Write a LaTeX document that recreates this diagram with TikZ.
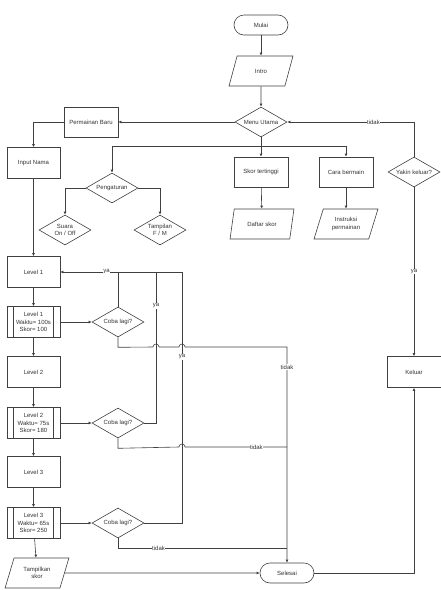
\documentclass[tikz,border=0pt]{standalone}
\usepackage{fontspec}
\setmainfont{Liberation Sans}
\usetikzlibrary{shapes.geometric,arrows.meta}

\begin{document}
\begin{tikzpicture}[x=1pt,y=1pt,
    font=\fontsize{6}{7.5}\selectfont,
    every node/.style={align=center,text=black!80},
    line/.style={draw=black!75,line width=0.6pt},
    arrow/.style={line,-{Latex[length=3pt,width=2.8pt]}},
    box/.style={rectangle,draw=black!75,line width=0.6pt,fill=white,minimum width=53pt,minimum height=31pt,inner sep=1pt},
    proc/.style={box,path picture={
        \draw[black!75,line width=0.6pt]
          ([xshift=6.5pt]path picture bounding box.north west) -- ([xshift=6.5pt]path picture bounding box.south west)
          ([xshift=-6.5pt]path picture bounding box.north east) -- ([xshift=-6.5pt]path picture bounding box.south east);}},
    io/.style={trapezium,trapezium left angle=67,trapezium right angle=113,trapezium stretches=true,
        draw=black!75,line width=0.6pt,fill=white,minimum width=64pt,minimum height=30pt,inner sep=0.5pt},
    decision/.style={diamond,aspect=1.75,draw=black!75,line width=0.6pt,fill=white,minimum width=52pt,minimum height=30pt,inner sep=0.3pt},
    terminal/.style={rectangle,rounded corners=10pt,draw=black!75,line width=0.6pt,fill=white,minimum width=54pt,minimum height=20pt},
    lbl/.style={fill=white,inner sep=0.5pt}]
    \useasboundingbox (0,0) rectangle (441,-590);

    % menu
    \node[terminal] (mulai) at (261,-25) {Mulai};
    \node[io] (intro) at (261,-71) {Intro};
    \node[decision] (menu) at (261,-122) {Menu Utama};
    \node[box,minimum width=54pt,minimum height=30pt] (baru) at (91,-122) {Permainan Baru};
    \node[box] (nama) at (33.5,-163) {Input Nama};
    \node[decision] (atur) at (112,-188) {Pengaturan};
    \node[decision] (suara) at (65,-230) {Suara\\On / Off};
    \node[decision] (tampil) at (160,-230) {Tampilan\\F / M};
    \node[box,minimum width=54pt,minimum height=30pt] (skor) at (261,-172) {Skor tertinggi};
    \node[box,minimum width=54pt,minimum height=30pt] (cara) at (346,-172) {Cara bermain};
    \node[io] (daftar) at (262,-224) {Daftar skor};
    \node[io] (instruksi) at (346,-224) {Instruksi\\permainan};
    \node[decision] (yakin) at (414,-172) {Yakin keluar?};
    \node[box,minimum width=54pt] (keluar) at (414,-372) {Keluar};

    % levels
    \node[box] (lvA) at (33.5,-272) {Level 1};
    \node[proc] (prA) at (33.5,-322) {Level 1\\Waktu= 100s\\Skor= 100};
    \node[decision] (cobaA) at (118,-322) {Coba lagi?};
    \node[box] (lvB) at (33.5,-372) {Level 2};
    \node[proc] (prB) at (33.5,-423) {Level 2\\Waktu= 75s\\Skor= 180};
    \node[decision] (cobaB) at (118,-423) {Coba lagi?};
    \node[box] (lvC) at (33.5,-472) {Level 3};
    \node[proc] (prC) at (33.5,-523) {Level 3\\Waktu= 65s\\Skor= 250};
    \node[decision] (cobaC) at (118,-523) {Coba lagi?};
    \node[io] (hasil) at (37,-573) {Tampilkan\\skor};
    \node[terminal] (selesai) at (287,-573) {Selesai};

    \coordinate (split) at (261,-146);
    \coordinate (topB) at (156,-272);
    \coordinate (topC) at (182,-272);

    \draw[arrow] (mulai) -- (intro);
    \draw[arrow] (intro) -- (menu);
    \draw[arrow] (menu) -- (baru);
    \draw[arrow] (baru.west) -| (nama.north);
    \draw[line] (menu) -- (split);
    \draw[arrow] (split) -| (atur.north);
    \draw[arrow] (split) -- (skor);
    \draw[arrow] (split) -| (cara.north);
    \draw[arrow] (atur.west) -| (suara.north);
    \draw[arrow] (atur.east) -| (tampil.north);
    \draw[arrow] (skor) -- (daftar);
    \draw[arrow] (cara) -- (instruksi);
    \draw[arrow] (yakin.north) |- (menu.east) node[lbl,pos=0.66] {tidak};
    \draw[arrow] (yakin) -- (keluar) node[lbl,midway] {ya};
    \draw[arrow] (selesai.east) -| (keluar.south);

    \draw[arrow] (nama) -- (lvA);
    \draw[arrow] (lvA) -- (prA);
    \draw[arrow] (prA) -- (lvB);
    \draw[arrow] (lvB) -- (prB);
    \draw[arrow] (prB) -- (lvC);
    \draw[arrow] (lvC) -- (prC);
    \draw[arrow] (prC) -- (hasil);
    \draw[arrow] (prA) -- (cobaA);
    \draw[arrow] (prB) -- (cobaB);
    \draw[arrow] (prC) -- (cobaC);
    \draw[arrow] (hasil) -- (selesai);

    % ya: back to level 1
    \draw[line] (cobaC.east) -| (topC) -- (topB);
    \draw[line] (cobaB.east) -| (topB);
    \draw[line] (topB) -- (cobaA.north |- lvA.east);
    \draw[arrow] (cobaA.north) |- (lvA.east) node[lbl,pos=0.6] {ya};
    \node[lbl] (yaB) at (156,-306) {ya};
    \node[lbl] (yaC) at (182,-357) {ya};

    % tidak: to selesai
    \draw[arrow] (cobaA.south) -- ++(0,-10) -- (153,-347) arc[start angle=180,end angle=0,radius=3]
        -- (179,-347) arc[start angle=180,end angle=0,radius=3] -- (287,-347) -- (selesai.north);
    \node[lbl] (tidakA) at (287,-367) {tidak};
    \draw[line] (cobaB.south) -- ++(0,-10) -- (179,-447) arc[start angle=180,end angle=0,radius=3]
        -- (287,-447) node[lbl,pos=0.7] {tidak};
    \draw[line] (cobaC.south) |- (287,-548) node[lbl,pos=0.62] {tidak};
\end{tikzpicture}
\end{document}
